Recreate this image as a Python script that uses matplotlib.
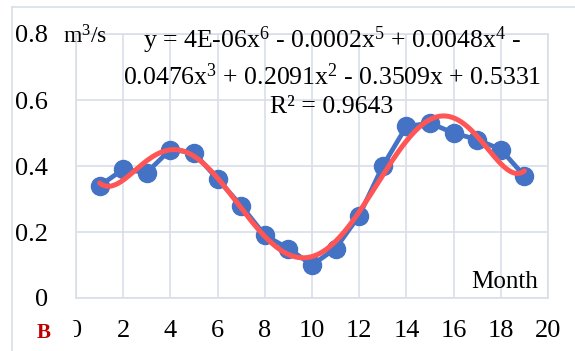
import numpy as np
import matplotlib
matplotlib.use("Agg")
import matplotlib.pyplot as plt
from matplotlib.patches import Rectangle
from matplotlib.lines import Line2D

months = [1, 2, 3, 4, 5, 6, 7, 8, 9, 10, 11, 12, 13, 14, 15, 16, 17, 18, 19]
flow = [0.34, 0.39, 0.38, 0.45, 0.44, 0.36, 0.28, 0.19, 0.15, 0.10,
        0.15, 0.25, 0.40, 0.52, 0.53, 0.50, 0.48, 0.45, 0.37]
xticks = [0, 2, 4, 6, 8, 10, 12, 14, 16, 18, 20]
yticks = [0, 0.2, 0.4, 0.6, 0.8]
ytick_labels = ["0", "0.2", "0.4", "0.6", "0.8"]
xtick_labels = ["0", "2", "4", "6", "8", "10", "12", "14", "16", "18", "20"]
equation = ("y = 4E-06x$^{6}$ - 0.0002x$^{5}$ + 0.0048x$^{4}$ -\n"
            "0.0476x$^{3}$ + 0.2091x$^{2}$ - 0.3509x + 0.5331\n"
            "R² = 0.9643")

plt.rcParams['font.family'] = ['Liberation Serif', 'DejaVu Serif']
plt.rcParams['mathtext.fontset'] = 'custom'
plt.rcParams['mathtext.rm'] = 'Liberation Serif'
plt.rcParams['mathtext.it'] = 'Liberation Serif'
plt.rcParams['xtick.labelsize'] = 19
plt.rcParams['ytick.labelsize'] = 19

fig = plt.figure(figsize=(5.75, 3.51), dpi=100)
ax = fig.add_axes([76/575, 1-298/351, (548-76)/575, (298-34)/351])

grid_c = '#d9dee7'
ax.set_xlim(0, 20)
ax.set_ylim(0, 0.8)
ax.set_xticks(xticks)
ax.set_xticklabels(xtick_labels, fontsize=19)
ax.set_yticks(yticks)
ax.set_yticklabels(ytick_labels, fontsize=19)
ax.grid(True, color=grid_c, lw=1.2)
ax.set_axisbelow(True)
for s in ax.spines.values():
    s.set_color(grid_c)
    s.set_linewidth(1.2)
ax.tick_params(length=0, colors='black')
ax.tick_params(axis='x', pad=16)
ax.tick_params(axis='y', pad=20)

ax.plot(months, flow, color='#4472C4', lw=3.4, marker='o', ms=13, zorder=3)

coef = np.polyfit(months, flow, 6)
xs = np.linspace(months[0], months[-1], 300)
ax.plot(xs, np.polyval(coef, xs), color='#FF5555', lw=3.6, zorder=4,
        solid_capstyle='round')

fig.text(332/575, 1-71/351, equation, ha='center', va='center',
         fontsize=18.5, linespacing=1.36)
fig.text(63/575, 1-37/351, "m$^{3}$/s", ha='left', va='center', fontsize=17)
ax.text(19.6, 0.015, "Month", ha='right', va='bottom', fontsize=18)

# chart border (top & left visible)
fig.add_artist(Line2D([12/575, 1], [1-7/351, 1-7/351], color=grid_c, lw=1.2,
                      transform=fig.transFigure))
fig.add_artist(Line2D([12/575, 12/575], [0, 1-7/351], color=grid_c, lw=1.2,
                      transform=fig.transFigure))

# white patch covering part of the "0" x label, plus the "B" label
fig.add_artist(Rectangle((13/575, 0), (74-13)/575, 30/351, transform=fig.transFigure,
                         facecolor='white', edgecolor='none', zorder=5))
fig.text(44/575, 1-333/351, "B", color='#C00000', fontweight='bold',
         fontsize=15, ha='center', va='center', zorder=6)

fig.savefig("out.png", dpi=100)
